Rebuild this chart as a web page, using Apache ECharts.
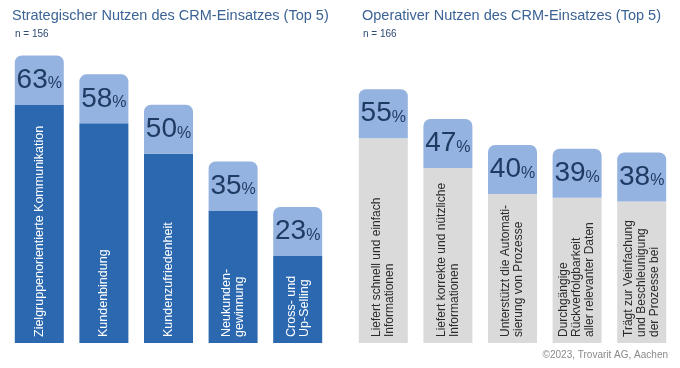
<!DOCTYPE html>
<html>
<head>
<meta charset="utf-8">
<script src="https://cdn.jsdelivr.net/npm/echarts@6/dist/echarts.min.js"></script>
<style>
    html, body { margin: 0; padding: 0; background: #fff; }
    #crmCharts { width: 680px; height: 368px; }
</style>
</head>
<body>
<div id="crmCharts"></div>
<script>
    // Strategischer Nutzen (links)
    const stratCategories = ['Zielgruppenorientierte Kommunikation', 'Kundenbindung', 'Kundenzufriedenheit', 'Neukunden-\ngewinnung', 'Cross- und\nUp-Selling']
    const stratValues = [63, 58, 50, 35, 23]
    // Operativer Nutzen (rechts)
    const opCategories = ['Liefert schnell und einfach\nInformationen', 'Liefert korrekte und nützliche\nInformationen', 'Unterstützt die Automati-\nsierung von Prozesse', 'Durchgängige\nRückverfolgbarkeit\naller relevanter Daten', 'Trägt zur Veinfachung\nund Beschleunigung\nder Prozesse bei']
    const opValues = [55, 47, 40, 39, 38]

    const font = '"Liberation Sans", Arial, sans-serif'

    const capLabel = {
        show: true,
        position: 'top',
        distance: 0,
        width: 49,
        backgroundColor: '#95b3e0',
        borderRadius: [7, 7, 0, 0],
        formatter: p => '{v|' + p.value + '}{p|%}',
        rich: {
            v: {
                fontFamily: font,
                fontSize: 28,
                lineHeight: 49,
                color: '#1f3a63'
            },
            p: {
                fontFamily: font,
                fontSize: 16,
                lineHeight: 49,
                padding: [8, 0, 0, 0],
                color: '#1f3a63'
            }
        }
    }

    function nameLabel(color, size) {
        return {
            show: true,
            position: 'insideBottom',
            rotate: 90,
            align: 'left',
            verticalAlign: 'middle',
            distance: 6,
            fontFamily: font,
            fontSize: size,
            lineHeight: 13,
            color: color,
            formatter: p => p.name
        }
    }

    const option = {
        animation: false,
        title: [
            {
                text: 'Strategischer Nutzen des CRM-Einsatzes (Top 5)',
                left: 7, top: 3,
                textStyle: { fontFamily: font, fontSize: 14.5, fontWeight: 'normal', color: '#3b6394' }
            },
            {
                text: 'n = 156',
                left: 10, top: 24,
                textStyle: { fontFamily: font, fontSize: 10, fontWeight: 'normal', color: '#2f4a72' }
            },
            {
                text: 'Operativer Nutzen des CRM-Einsatzes (Top 5)',
                left: 357, top: 3,
                textStyle: { fontFamily: font, fontSize: 14.5, fontWeight: 'normal', color: '#3b6394' }
            },
            {
                text: 'n = 166',
                left: 358, top: 24,
                textStyle: { fontFamily: font, fontSize: 10, fontWeight: 'normal', color: '#2f4a72' }
            },
            {
                text: '©2023, Trovarit AG, Aachen',
                right: 7, top: 345,
                textStyle: { fontFamily: font, fontSize: 10, fontWeight: 'normal', color: '#8a8a8a' }
            }
        ],
        grid: [
            { left: 7, width: 323, top: 40, bottom: 25 },
            { left: 351, width: 323, top: 45, bottom: 25 }
        ],
        xAxis: [
            { type: 'category', gridIndex: 0, data: stratCategories, show: false },
            { type: 'category', gridIndex: 1, data: opCategories, show: false }
        ],
        yAxis: [
            { type: 'value', gridIndex: 0, min: 0, max: 80, show: false },
            { type: 'value', gridIndex: 1, min: 0, max: 80, show: false }
        ],
        series: [
            {
                type: 'bar', xAxisIndex: 0, yAxisIndex: 0,
                data: stratValues, barWidth: 49,
                itemStyle: { color: '#2b68b0' },
                label: capLabel
            },
            {
                type: 'bar', xAxisIndex: 0, yAxisIndex: 0,
                data: stratValues, barWidth: 49, barGap: '-100%',
                itemStyle: { color: 'transparent' },
                label: nameLabel('#ffffff', 12.5)
            },
            {
                type: 'bar', xAxisIndex: 1, yAxisIndex: 1,
                data: opValues, barWidth: 49,
                itemStyle: { color: '#dadada' },
                label: capLabel
            },
            {
                type: 'bar', xAxisIndex: 1, yAxisIndex: 1,
                data: opValues, barWidth: 49, barGap: '-100%',
                itemStyle: { color: 'transparent' },
                label: nameLabel('#2a2a2a', 12)
            }
        ]
    }

    const crmCharts = echarts.init(document.getElementById('crmCharts'))
    crmCharts.setOption(option)
</script>
</body>
</html>
